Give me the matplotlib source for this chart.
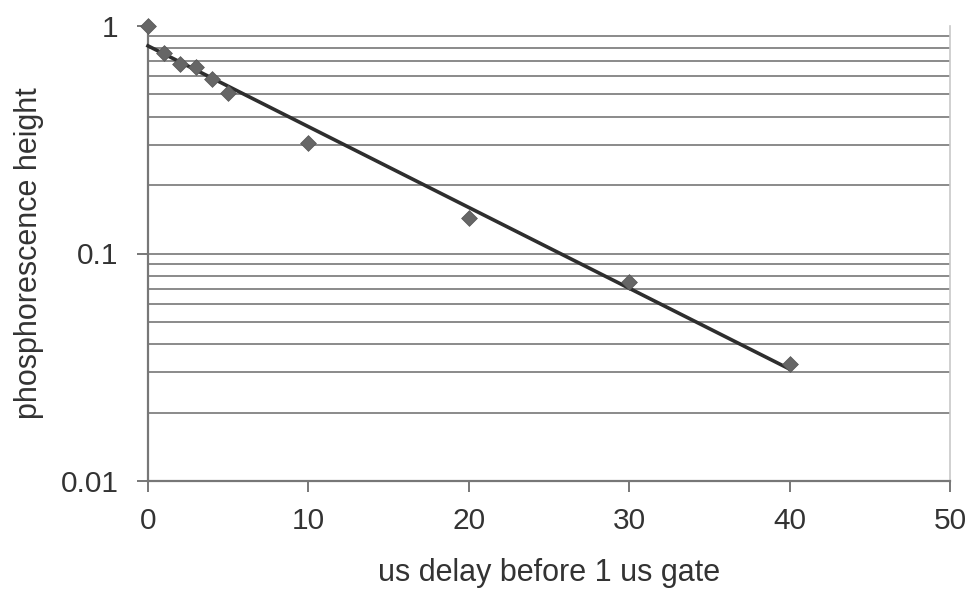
import numpy as np
import matplotlib
matplotlib.use("Agg")
import matplotlib.pyplot as plt
from matplotlib.ticker import FixedLocator, NullFormatter, FixedFormatter

# Measured phosphorescence decay
delay_us = [0, 1, 2, 3, 4, 5, 10, 20, 30, 40]
height = [1.0, 0.763, 0.679, 0.662, 0.585, 0.509, 0.307, 0.143, 0.0752, 0.0327]

x_ticks = [0, 10, 20, 30, 40, 50]
y_ticks = [0.01, 0.1, 1]
y_tick_labels = ["0.01", "0.1", "1"]

# Exponential trend line (least squares on log values)
slope, intercept = np.polyfit(delay_us, np.log(height), 1)
fit_x = np.linspace(0, 40, 200)
fit_y = np.exp(intercept + slope * fit_x)

plt.rcParams["font.family"] = ["Liberation Sans", "DejaVu Sans"]

fig = plt.figure(figsize=(9.75, 5.95), dpi=100)
ax = fig.add_axes([148 / 975, (595 - 481) / 595, 802 / 975, 455 / 595])

ax.set_yscale("log")
ax.set_xlim(0, 50)
ax.set_ylim(0.01, 1)

# Horizontal gridlines at every minor step inside each decade
grid_vals = [m * 10.0 ** e for e in (-2, -1) for m in range(2, 10)] + [0.1]
for g in grid_vals:
    ax.axhline(g, color="#8a8a8a", lw=1.4, zorder=1)

ax.plot(fit_x, fit_y, color="#2e2e2e", lw=2.6, zorder=3, clip_on=False)
ax.scatter(delay_us, height, marker="D", s=65, color="#666666",
           edgecolors="#555555", linewidths=0.5, zorder=4, clip_on=False)

ax.xaxis.set_major_locator(FixedLocator(x_ticks))
ax.yaxis.set_major_locator(FixedLocator(y_ticks))
ax.yaxis.set_major_formatter(FixedFormatter(y_tick_labels))
ax.yaxis.set_minor_locator(FixedLocator([]))
ax.yaxis.set_minor_formatter(NullFormatter())

ax.spines["top"].set_visible(False)
ax.spines["right"].set_color("#c8c8c8")
ax.spines["right"].set_linewidth(1.2)
ax.spines["left"].set_color("#777777")
ax.spines["left"].set_linewidth(1.6)
ax.spines["bottom"].set_color("#777777")
ax.spines["bottom"].set_linewidth(1.6)

ax.tick_params(axis="both", direction="out", length=8, width=1.4,
               color="#777777", labelcolor="#333333", labelsize=21.5)
ax.tick_params(axis="x", pad=11)
ax.tick_params(axis="y", pad=13)

ax.set_xlabel("us delay before 1 us gate", fontsize=22, color="#333333", labelpad=16)
ax.set_ylabel("phosphorescence height", fontsize=22, color="#333333", labelpad=12)

fig.savefig("out.png", dpi=100, facecolor="white")
